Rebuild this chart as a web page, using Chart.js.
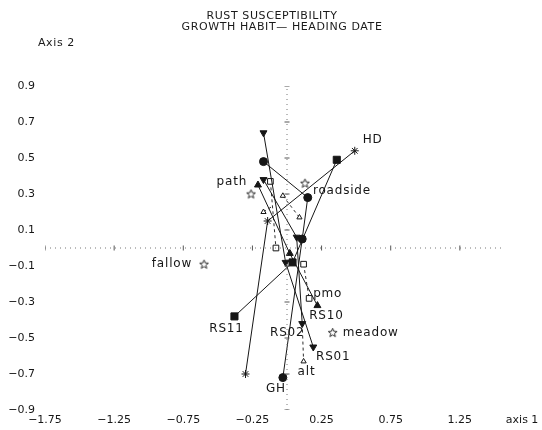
<!DOCTYPE html>
<html>
<head>
<meta charset="utf-8">
<script src="https://cdn.jsdelivr.net/npm/chart.js@4.4.0/dist/chart.umd.min.js"></script>
<style>
  html, body { margin: 0; padding: 0; background: #fff; }
  #wrap { position: relative; width: 542px; height: 430px; overflow: hidden; }
  #chart { position: absolute; left: 0; top: 0; }
  .txt { position: absolute; font: 11px 'DejaVu Sans', sans-serif; color: #1a1a1a; white-space: nowrap; letter-spacing: 0.6px; }
  .ctr { transform: translateX(-50%); }
</style>
</head>
<body>
<div id="wrap">
  <canvas id="chart" width="542" height="430"></canvas>
  <div class="txt ctr" style="left:272px; top:9px;">RUST SUSCEPTIBILITY</div>
  <div class="txt ctr" style="left:282px; top:20px;">GROWTH HABIT&#8212; HEADING DATE</div>
  <div class="txt" style="left:38px; top:36px;">Axis 2</div>
</div>
<script>
'use strict';

/* ============================================================
   DATA – ordination scores (axis 1, axis 2)
   ============================================================ */
var xTickVals = [-1.75, -1.25, -0.75, -0.25, 0.25, 0.75, 1.25, 1.7];
var yTickVals = [0.9, 0.7, 0.5, 0.3, 0.1, -0.1, -0.3, -0.5, -0.7, -0.9];

/* filled-symbol trajectories (solid lines) */
var hdPath   = [[0.49, 0.54], [-0.14, 0.15], [-0.30, -0.70]];
var ghPath   = [[-0.17, 0.48], [0.15, 0.28], [0.11, 0.05], [-0.03, -0.72]];
var rs11Path = [[0.36, 0.49], [0.04, -0.08], [-0.38, -0.38]];
var rs01Path = [[-0.17, 0.64], [-0.01, -0.08], [0.19, -0.55]];
var rs02Path = [[-0.17, 0.38], [0.07, 0.06], [0.11, -0.42]];
var rs10Path = [[-0.21, 0.35], [0.02, -0.03], [0.22, -0.32]];

/* open-symbol pairs (dashed lines) */
var sqPathA  = [[-0.12, 0.37], [-0.08, 0.00]];
var sqPathB  = [[0.12, -0.09], [0.16, -0.28]];
var triPathA = [[-0.03, 0.29], [0.09, 0.17]];
var triPathB = [[-0.17, 0.20], [-0.11, 0.23]];
var altPath  = [[0.11, -0.42], [0.12, -0.63]];

/* habitat scores (open stars) */
var habitats = [[-0.26, 0.30], [0.13, 0.36], [-0.60, -0.09], [0.33, -0.47]];

/* axis guide extents */
var hGuide = [[-1.75, 0], [1.55, 0]];
var vGuide = [[0, -0.9], [0, 0.9]];

/* point labels: text and the point they belong to */
var labelText   = ['HD', 'GH', 'RS11', 'RS10', 'RS02', 'RS01', 'path', 'roadside', 'fallow', 'meadow', 'pmo', 'alt'];
var labelAnchor = [hdPath[0], ghPath[3], rs11Path[2], rs10Path[2], rs02Path[2], rs01Path[2],
                   habitats[0], habitats[1], habitats[2], habitats[3], sqPathB[1], altPath[1]];

/* ============================================================
   STYLE
   ============================================================ */
var INK = '#161616';
var labelStyle = [
  [8, -11, 'left'], [-7, 11, 'center'], [-8, 12, 'center'], [9, 10, 'center'],
  [-15, 9, 'center'], [20, 10, 'center'], [-4, -12, 'right'], [8, 8, 'left'],
  [-12, 0, 'right'], [10, 0, 'left'], [4, -5, 'left'], [-6, 10, 'left']
];

function pts(arr) {
  return arr.map(function (p) { return { x: p[0], y: p[1] }; });
}

function fmt(v, d) {
  var s = Math.abs(v).toFixed(d);
  return v < 0 ? '\u2212' + s : s;
}

/* small open five-point star sprite */
function openStar() {
  var c = document.createElement('canvas');
  c.width = 11; c.height = 11;
  var g = c.getContext('2d');
  g.beginPath();
  for (var i = 0; i < 10; i++) {
    var r = i % 2 ? 2.0 : 4.6;
    var a = -Math.PI / 2 + i * Math.PI / 5;
    var px = 5.5 + r * Math.cos(a), py = 5.8 + r * Math.sin(a);
    if (i) g.lineTo(px, py); else g.moveTo(px, py);
  }
  g.closePath();
  g.fillStyle = '#fff';
  g.fill();
  g.strokeStyle = INK;
  g.lineWidth = 0.9;
  g.stroke();
  return c;
}

function solid(data, style, radius, rot, fill) {
  return {
    data: pts(data), showLine: true, borderColor: INK, borderWidth: 1,
    pointStyle: style, pointRadius: radius, pointRotation: rot || 0,
    pointBackgroundColor: fill || INK, pointBorderColor: INK, pointBorderWidth: 1
  };
}

function dashed(data, style, radius, radii) {
  var ds = solid(data, style, radius, 0, '#fff');
  ds.borderDash = [3, 3];
  ds.borderWidth = 0.9;
  if (radii) ds.pointRadius = radii;
  return ds;
}

/* ============================================================
   PLUGIN – point labels
   ============================================================ */
var pointLabels = {
  id: 'pointLabels',
  afterDatasetsDraw: function (chart) {
    var ctx = chart.ctx, xs = chart.scales.x, ys = chart.scales.y;
    ctx.save();
    ctx.font = '12px "DejaVu Sans", sans-serif';
    ctx.fillStyle = INK;
    ctx.textBaseline = 'middle';
    if ('letterSpacing' in ctx) ctx.letterSpacing = '0.8px';
    labelText.forEach(function (t, i) {
      var a = labelAnchor[i], st = labelStyle[i];
      ctx.textAlign = st[2];
      ctx.fillText(t, xs.getPixelForValue(a[0]) + st[0], ys.getPixelForValue(a[1]) + st[1]);
    });
    ctx.restore();
  }
};

/* ============================================================
   CHART
   ============================================================ */
var guideStyle = { showLine: true, borderColor: '#777', borderWidth: 1, borderDash: [1, 4], pointRadius: 0 };

var datasets = [
  Object.assign({ data: pts(hGuide) }, guideStyle),
  Object.assign({ data: pts(vGuide) }, guideStyle),
  { data: xTickVals.slice(0, 7).map(function (v) { return { x: v, y: 0 }; }),
    pointStyle: 'line', pointRadius: 2.5, pointRotation: 90, pointBorderColor: '#555', pointBorderWidth: 1 },
  { data: yTickVals.map(function (v) { return { x: 0, y: v }; }),
    pointStyle: 'line', pointRadius: 2.5, pointBorderColor: '#555', pointBorderWidth: 1 },

  solid(hdPath, 'star', 4),
  solid(ghPath, 'circle', 4),
  solid(rs11Path, 'rect', 5),
  solid(rs01Path, 'triangle', 4, 180),
  solid(rs02Path, 'triangle', 4, 180),
  solid(rs10Path, 'triangle', 4),

  dashed(sqPathA, 'rect', 4),
  dashed(sqPathB, 'rect', 4),
  dashed(triPathA, 'triangle', 3),
  dashed(triPathB, 'triangle', 3, [3, 0]),
  dashed(altPath, 'triangle', 3, [0, 3]),

  { data: pts(habitats), pointStyle: openStar(), pointRadius: 5 }
];

new Chart(document.getElementById('chart'), {
  type: 'scatter',
  data: { datasets: datasets },
  options: {
    responsive: false,
    animation: false,
    layout: { padding: { top: 86, right: 13, bottom: 0, left: 0 } },
    plugins: { legend: { display: false }, tooltip: { enabled: false } },
    scales: {
      x: {
        type: 'linear', min: -1.75, max: 1.75,
        grid: { display: false, drawTicks: false },
        border: { display: false },
        afterBuildTicks: function (s) { s.ticks = xTickVals.map(function (v) { return { value: v }; }); },
        afterFit: function (s) { s.height = 20; s.paddingLeft = 0; s.paddingRight = 0; },
        ticks: {
          padding: 4, maxRotation: 0, autoSkip: false, color: INK,
          font: { family: 'DejaVu Sans', size: 11 },
          callback: function (v) { return v === 1.7 ? 'axis 1' : fmt(v, 2); }
        }
      },
      y: {
        type: 'linear', min: -0.9, max: 0.9,
        grid: { display: false, drawTicks: false },
        border: { display: false },
        afterBuildTicks: function (s) { s.ticks = yTickVals.map(function (v) { return { value: v }; }); },
        afterFit: function (s) { s.width = 45; },
        ticks: {
          padding: 10, autoSkip: false, color: INK,
          font: { family: 'DejaVu Sans', size: 11 },
          callback: function (v) { return fmt(v, 1); }
        }
      }
    }
  },
  plugins: [pointLabels]
});
</script>
</body>
</html>
